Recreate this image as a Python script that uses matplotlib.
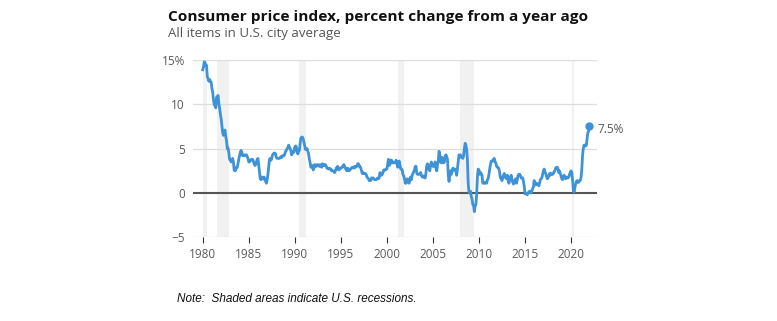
import numpy as np
import matplotlib.pyplot as plt

# monthly CPI-U, percent change from a year ago, Jan 1980 .. Jan 2022
cpi_1980s = [
    13.9, 14.2, 14.8, 14.7, 14.4, 14.4, 13.1, 12.9, 12.6, 12.8, 12.6, 12.5,
    11.8, 11.4, 10.5, 10.0, 9.8, 9.6, 10.8, 10.8, 11.0, 10.1, 9.6, 8.9,
    8.4, 7.6, 6.8, 6.5, 6.7, 7.1, 6.4, 5.9, 5.0, 5.1, 4.6, 3.8,
    3.7, 3.5, 3.6, 3.9, 3.5, 2.6, 2.5, 2.6, 2.9, 2.9, 3.3, 3.8,
    4.2, 4.6, 4.8, 4.6, 4.2, 4.2, 4.2, 4.3, 4.3, 4.3, 4.1, 3.9,
    3.5, 3.5, 3.7, 3.7, 3.8, 3.8, 3.6, 3.3, 3.1, 3.2, 3.5, 3.8,
    3.9, 3.1, 2.2, 1.6, 1.5, 1.8, 1.6, 1.6, 1.8, 1.5, 1.3, 1.1,
    1.5, 2.1, 3.0, 3.8, 3.9, 3.7, 3.9, 4.3, 4.4, 4.5, 4.5, 4.4,
    4.0, 3.9, 3.9, 3.9, 3.9, 4.0, 4.1, 4.0, 4.2, 4.2, 4.2, 4.4,
    4.7, 4.8, 5.0, 5.1, 5.4, 5.2, 5.0, 4.7, 4.3, 4.5, 4.7, 4.6,
]
cpi_1990s = [
    5.2, 5.3, 5.2, 4.7, 4.4, 4.7, 4.8, 5.6, 6.2, 6.3, 6.3, 6.1,
    5.7, 5.3, 4.9, 4.9, 5.0, 4.7, 4.4, 3.8, 3.4, 2.9, 3.0, 3.1,
    2.6, 2.8, 3.2, 3.2, 3.0, 3.1, 3.2, 3.1, 3.0, 3.2, 3.0, 2.9,
    3.3, 3.2, 3.1, 3.2, 3.2, 3.0, 2.8, 2.8, 2.7, 2.8, 2.7, 2.7,
    2.5, 2.5, 2.5, 2.4, 2.3, 2.5, 2.8, 2.9, 3.0, 2.6, 2.7, 2.7,
    2.8, 2.9, 2.9, 3.1, 3.2, 3.0, 2.8, 2.6, 2.5, 2.8, 2.6, 2.5,
    2.7, 2.7, 2.8, 2.9, 2.9, 2.8, 3.0, 2.9, 3.0, 3.0, 3.3, 3.3,
    3.0, 3.0, 2.8, 2.5, 2.2, 2.3, 2.2, 2.2, 2.2, 2.1, 1.8, 1.7,
    1.6, 1.4, 1.4, 1.4, 1.7, 1.7, 1.7, 1.6, 1.5, 1.5, 1.5, 1.6,
    1.7, 1.6, 1.7, 2.3, 2.1, 2.0, 2.1, 2.3, 2.6, 2.6, 2.6, 2.7,
]
cpi_2000s = [
    2.7, 3.2, 3.8, 3.1, 3.2, 3.7, 3.7, 3.4, 3.5, 3.4, 3.4, 3.4,
    3.7, 3.5, 2.9, 3.3, 3.6, 3.2, 2.7, 2.7, 2.6, 2.1, 1.9, 1.6,
    1.1, 1.1, 1.5, 1.6, 1.2, 1.1, 1.5, 1.8, 1.5, 2.0, 2.2, 2.4,
    2.6, 3.0, 3.0, 2.2, 2.1, 2.1, 2.1, 2.2, 2.3, 2.0, 1.8, 1.9,
    1.9, 1.7, 1.7, 2.3, 3.1, 3.3, 3.0, 2.7, 2.5, 3.2, 3.5, 3.3,
    3.0, 3.0, 3.1, 3.5, 2.8, 2.5, 3.2, 3.6, 4.7, 4.3, 3.5, 3.4,
    4.0, 3.6, 3.4, 3.5, 4.2, 4.3, 4.1, 3.8, 2.1, 1.3, 2.0, 2.5,
    2.1, 2.4, 2.8, 2.6, 2.7, 2.7, 2.4, 2.0, 2.8, 3.5, 4.3, 4.1,
    4.3, 4.0, 4.0, 3.9, 4.2, 5.0, 5.6, 5.4, 4.9, 3.7, 1.1, 0.1,
    0.0, 0.2, -0.4, -0.7, -1.3, -1.4, -2.1, -1.5, -1.3, -0.2, 1.8, 2.7,
]
cpi_2010s = [
    2.6, 2.1, 2.3, 2.2, 2.0, 1.1, 1.2, 1.1, 1.1, 1.2, 1.1, 1.5,
    1.6, 2.1, 2.7, 3.2, 3.6, 3.6, 3.6, 3.8, 3.9, 3.5, 3.4, 3.0,
    2.9, 2.9, 2.7, 2.3, 1.7, 1.7, 1.4, 1.7, 2.0, 2.2, 1.8, 1.7,
    1.6, 2.0, 1.5, 1.1, 1.4, 1.8, 2.0, 1.5, 1.2, 1.0, 1.2, 1.5,
    1.6, 1.1, 1.5, 2.0, 2.1, 2.1, 2.0, 1.7, 1.7, 1.7, 1.3, 0.8,
    -0.1, 0.0, -0.1, -0.2, 0.0, 0.1, 0.2, 0.2, 0.0, 0.2, 0.5, 0.7,
    1.4, 1.0, 0.9, 1.1, 1.0, 1.0, 0.8, 1.1, 1.5, 1.6, 1.7, 2.1,
    2.5, 2.7, 2.4, 2.2, 1.9, 1.6, 1.7, 1.9, 2.2, 2.0, 2.2, 2.1,
    2.1, 2.2, 2.4, 2.5, 2.8, 2.9, 2.9, 2.7, 2.3, 2.5, 2.2, 1.9,
    1.6, 1.5, 1.9, 2.0, 1.8, 1.6, 1.8, 1.7, 1.7, 1.8, 2.1, 2.3,
]
cpi_2020s = [
    2.5, 2.3, 1.5, 0.3, 0.1, 0.6, 1.0, 1.3, 1.4, 1.2, 1.2, 1.4,
    1.4, 1.7, 2.6, 4.2, 5.0, 5.4, 5.4, 5.3, 5.4, 6.2, 6.8, 7.0,
    7.5,
]
start_year = 1980

# recessions (start, end) as decimal years
recessions = [(1980.0, 1980.5), (1981.5, 1982.9), (1990.5, 1991.2),
              (2001.2, 2001.9), (2007.9, 2009.5), (2020.1, 2020.3)]

y_ticks = [-5, 0, 5, 10, 15]
y_labels = ['\u22125', '0', '5', '10', '15%']
x_ticks = [1980, 1985, 1990, 1995, 2000, 2005, 2010, 2015, 2020]

cpi = np.array(cpi_1980s + cpi_1990s + cpi_2000s + cpi_2010s + cpi_2020s)
dates = start_year + np.arange(len(cpi)) / 12

plt.rcParams['font.family'] = ['Open Sans', 'DejaVu Sans']

fig = plt.figure(figsize=(7.77, 3.21), dpi=100)
ax = fig.add_axes([0.2488, 0.2607, 0.52, 0.5524])

for a, b in recessions:
    ax.axvspan(a, b, color='#f1f1f1', lw=0, zorder=0)

for v in y_ticks:
    if v == 0:
        ax.axhline(v, color='#555555', lw=1.5, zorder=1)
    else:
        ax.axhline(v, color='#dddddd', lw=0.9, zorder=1)

ax.plot(dates, cpi, color='#3d92d8', lw=2, zorder=3)
ax.plot(dates[-1], cpi[-1], 'o', color='#3d92d8', ms=5, zorder=4)
ax.annotate('%.1f%%' % cpi[-1], (dates[-1], cpi[-1]), xytext=(6, -2),
            textcoords='offset points', va='center', ha='left',
            fontsize=8.5, color='#555555')

ax.set_xlim(1978.98, 2022.86)
ax.set_ylim(-5, 15)
ax.set_yticks(y_ticks)
ax.set_yticklabels(y_labels)
ax.set_xticks(x_ticks)
for s in ax.spines.values():
    s.set_visible(False)
ax.tick_params(axis='y', length=0, pad=6, labelsize=8.5, labelcolor='#5a5a5a')
ax.tick_params(axis='x', length=4, width=0.8, color='#333333', pad=4,
               labelsize=8.5, labelcolor='#5a5a5a')

fig.text(0.216, 0.948, 'Consumer price index, percent change from a year ago',
         fontsize=11.1, fontweight='bold', color='#111111', va='center')
fig.text(0.216, 0.895, 'All items in U.S. city average',
         fontsize=9.5, color='#555555', va='center')
fig.text(0.228, 0.069, 'Note:  Shaded areas indicate U.S. recessions.',
         fontsize=8.5, style='italic', family='Liberation Sans',
         color='#111111', va='center')

fig.savefig('out.png', dpi=100)
